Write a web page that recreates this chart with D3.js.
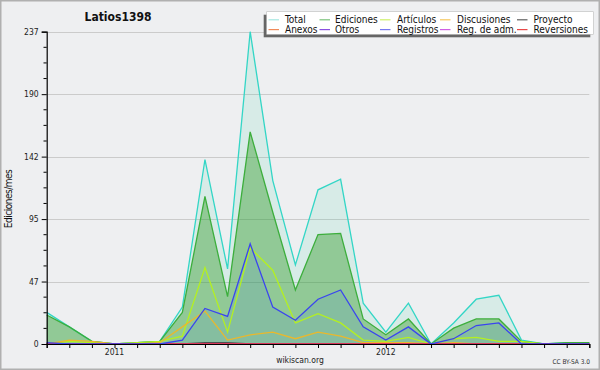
<!DOCTYPE html>
<html><head><meta charset="utf-8">
<script src="https://cdn.jsdelivr.net/npm/d3@7"></script>
<style>
html,body{margin:0;padding:0;background:#eeeff1;}
svg{display:block;}
text{font-family:"DejaVu Sans Condensed","DejaVu Sans",sans-serif;}
</style></head><body>
<svg id="chart" width="600" height="370"></svg>
<script>
// ---- data ----
const title = "Latios1398";
const months = ["2010-10","2010-11","2010-12","2011-01","2011-02","2011-03","2011-04","2011-05","2011-06","2011-07","2011-08","2011-09","2011-10","2011-11","2011-12","2012-01","2012-02","2012-03","2012-04","2012-05","2012-06","2012-07","2012-08","2012-09","2012-10"];
const yearLabels = ["2011","2012"];
const yTickValues = [0, 47.4, 94.8, 142.2, 189.6, 237];
const yTickLabels = ["0","47","95","142","190","237"];
const total       = [24,13,2,0,1,2,28,140,57,237,124,60,117,125,31,9,31,0,16,34,37,3,0,1,1];
const ediciones   = [22,13,2,0,1,2,24,112,36,161,100,41,83,84,19,7,19,0,12,19,19,2,0,1,1];
const articulos   = [0,2,1,0,1,2,6,58,9,73,56,16,23,16,3,2,5,0,4,5,2,2,0,0,0];
const discusiones = [0,3,2,0,0,1,13,25,3,7,9,4,9,6,1,1,1,0,1,0,0,0,0,0,0];
const proyecto    = [0,0,0,0,0,0,0,1,1,0,0,0,0,0,0,0,0,0,0,0,0,0,0,0,0];
const anexos      = [0,0,0,0,0,0,0,0,0,0,0,0,0,0,0,0,0,0,0,0,0,0,0,0,0];
const otros       = [0,0,0,0,0,0,0,0,0,0,0,0,0,0,0,0,0,0,0,0,0,0,0,0,0];
const registros   = [1,0,0,0,0,0,3,27,21,76,28,18,34,41,13,3,13,0,4,14,16,0,0,0,0];
const regAdm      = [0,0,0,0,0,0,0,0,0,0,0,0,0,0,0,0,0,0,0,0,0,0,0,0,0];
const reversiones = [0,0,0,0,0,0,0,0,0,0,0,0,0,0,0,0,0,0,0,0,0,0,0,0,0];
const legendNames = ["Total","Ediciones","Artículos","Discusiones","Proyecto","Anexos","Otros","Registros","Reg. de adm.","Reversiones"];

// ---- styles ----
const series = [
  {name:"Total", v:total, line:"#33d6c6", fill:"rgba(60,210,170,0.13)", leg:"#a6e8e2"},
  {name:"Ediciones", v:ediciones, line:"#3cae3c", fill:"rgba(40,150,30,0.4)", leg:"#7cc47c"},
  {name:"Artículos", v:articulos, line:"#b4f020", fill:null, leg:"#cff06a"},
  {name:"Discusiones", v:discusiones, line:"#eab82c", fill:null, leg:"#f6c860"},
  {name:"Proyecto", v:proyecto, line:"#505050", fill:null, leg:"#606060"},
  {name:"Anexos", v:anexos, line:"#f07840", fill:null, leg:"#f08a5a"},
  {name:"Otros", v:otros, line:"#7a40e0", fill:null, leg:"#8a50e0"},
  {name:"Registros", v:registros, line:"#3a44f0", fill:"rgba(30,100,255,0.1)", leg:"#7878f0"},
  {name:"Reg. de adm.", v:regAdm, line:"#d040e0", fill:null, leg:"#d060e4"},
  {name:"Reversiones", v:reversiones, line:"#e03030", fill:null, leg:"#e84848"}
];

const svg = d3.select("#chart");
const W = 600, H = 370;
const x = d3.scaleLinear().domain([0, months.length-1]).range([46.7, 589.3]);
const y = d3.scaleLinear().domain([0, 237]).range([344, 31.7]);

// frame
svg.append("rect").attr("x",0.75).attr("y",0.75).attr("width",W-1.5).attr("height",H-1.5)
  .attr("fill","#eeeff1").attr("stroke","#b0b0b0").attr("stroke-width",1.5);

// grid
svg.append("g").selectAll("line").data(yTickValues.slice(1)).join("line")
  .attr("x1",x(0)).attr("x2",x(months.length-1))
  .attr("y1",d=>Math.round(y(d))+0.5).attr("y2",d=>Math.round(y(d))+0.5)
  .attr("stroke","#cbcbcb").attr("stroke-width",1);

// areas & lines
const idx = d3.range(months.length);
const area = v => d3.area().x(i=>x(i)).y0(y(0)).y1(i=>y(v[i]))(idx);
const line = v => d3.line().x(i=>x(i)).y(i=>y(v[i]))(idx);

const drawOrder = ["Total","Ediciones","Artículos","Discusiones","Proyecto","Anexos","Otros","Reg. de adm.","Reversiones","Registros"];
const byName = Object.fromEntries(series.map(s=>[s.name,s]));
// fills first (in order)
["Total","Ediciones","Registros"].forEach(n=>{
  const s = byName[n];
  svg.append("path").attr("d",area(s.v)).attr("fill",s.fill).attr("stroke","none");
});
drawOrder.forEach(n=>{
  const s = byName[n];
  svg.append("path").attr("d",line(s.v)).attr("fill","none").attr("stroke",s.line)
    .attr("stroke-width",1.3).attr("stroke-linejoin","miter");
});

// y axis
const yAxis = d3.axisLeft(y).tickValues(yTickValues).tickSize(5).tickPadding(3)
  .tickFormat((d,i)=>yTickLabels[i]);
const gy = svg.append("g").attr("transform","translate(46.7,0)").call(yAxis);
gy.select(".domain").attr("stroke","#000").attr("stroke-width",1.2);
gy.selectAll(".tick line").attr("stroke","#000");
gy.selectAll(".tick text").attr("font-size","8.5px").attr("fill","#222")
  .attr("font-family","'DejaVu Sans Condensed','DejaVu Sans',sans-serif");
// minor y ticks
const minor = [];
for (let k=0;k<5;k++) for (let j=1;j<4;j++) minor.push(yTickValues[k] + (yTickValues[k+1]-yTickValues[k])*j/4);
svg.append("g").selectAll("line").data(minor).join("line")
  .attr("x1",43.5).attr("x2",46.7).attr("y1",d=>y(d)).attr("y2",d=>y(d))
  .attr("stroke","#000").attr("stroke-width",1);

// x axis
const xAxis = d3.axisBottom(x).tickValues(idx).tickSize(4).tickFormat("");
const gx = svg.append("g").attr("transform","translate(0,344)").call(xAxis);
gx.select(".domain").attr("stroke","#000").attr("stroke-width",1.2);
gx.selectAll(".tick line").attr("stroke","#000");
yearLabels.forEach(lbl=>{
  const i = months.indexOf(lbl+"-01");
  svg.append("text").attr("x",x(i)).attr("y",354.5).attr("text-anchor","middle")
    .attr("font-size","8.5px").attr("fill","#222").text(lbl);
});

// y label
svg.append("text").attr("transform","translate(12,199) rotate(-90)")
  .attr("text-anchor","middle").attr("font-size","10px").attr("fill","#111")
  .attr("font-family","'DejaVu Sans Mono',monospace").attr("letter-spacing","-0.5")
  .text("Ediciones/mes");

// title
svg.append("text").attr("x",118).attr("y",21).attr("text-anchor","middle")
  .attr("font-size","12px").attr("font-weight","bold").attr("fill","#111").text(title);

// footer
svg.append("text").attr("x",300).attr("y",363).attr("text-anchor","middle")
  .attr("font-size","8.5px").attr("fill","#222").text("wikiscan.org");
svg.append("text").attr("x",590).attr("y",364).attr("text-anchor","end")
  .attr("font-size","6.5px").attr("fill","#333").text("CC BY-SA 3.0");

// legend
const lg = svg.append("g");
lg.append("rect").attr("x",263.7).attr("y",14.7).attr("width",326.6).attr("height",22.6).attr("fill","#666");
lg.append("rect").attr("x",266.7).attr("y",11.7).attr("width",326.6).attr("height",22.6)
  .attr("fill","#fff").attr("stroke","#bbb").attr("stroke-width",0.6);
const colLineX = [268.5, 319.5, 380, 440, 517];
const colTextX = [285, 335, 397, 457, 533.5];
const rowY = [19.8, 29.6];
legendNames.forEach((n,k)=>{
  const s = byName[n];
  const c = k%5, r = Math.floor(k/5);
  lg.append("line").attr("x1",colLineX[c]).attr("x2",colLineX[c]+10.5)
    .attr("y1",rowY[r]).attr("y2",rowY[r]).attr("stroke",s.leg).attr("stroke-width",1.2);
  lg.append("text").attr("x",colTextX[c]).attr("y",rowY[r]+3.5)
    .attr("font-size","10px").attr("fill","#111").text(n);
});
</script>
</body></html>
